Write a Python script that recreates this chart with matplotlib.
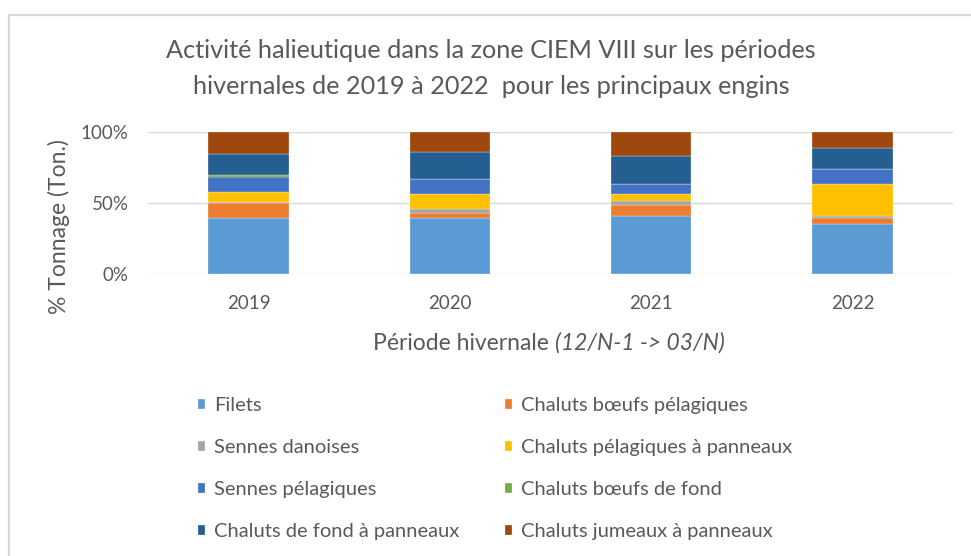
import matplotlib.pyplot as plt
from matplotlib.patches import Rectangle
import numpy as np

plt.rcParams['font.family'] = ['Lato', 'DejaVu Sans']

# data (share of tonnage, %)
years = ['2019', '2020', '2021', '2022']
engins = ['Filets', 'Chaluts bœufs pélagiques', 'Sennes danoises',
          'Chaluts pélagiques à panneaux', 'Sennes pélagiques',
          'Chaluts bœufs de fond', 'Chaluts de fond à panneaux',
          'Chaluts jumeaux à panneaux']
filets = [39.4, 39.4, 40.8, 35.4]
boeufs_pelag = [10.6, 3.8, 7.7, 3.8]
sennes_dan = [1.0, 2.6, 2.6, 1.4]
chal_pelag = [7.0, 10.8, 5.4, 22.8]
sennes_pelag = [10.4, 10.3, 6.8, 10.3]
boeufs_fond = [1.5, 0.1, 0.3, 0.1]
chal_fond = [14.6, 19.0, 19.7, 14.6]
jumeaux = [15.5, 14.0, 16.7, 11.6]
series = [filets, boeufs_pelag, sennes_dan, chal_pelag, sennes_pelag,
          boeufs_fond, chal_fond, jumeaux]
colors = ['#5B9BD5', '#ED7D31', '#A5A5A5', '#FFC000', '#4472C4',
          '#70AD47', '#255E91', '#9E480E']

txt = '#595959'
W, H = 971, 556
fig = plt.figure(figsize=(W / 100, H / 100), dpi=100)

# chart border
fig.patches.append(Rectangle((9 / W, -0.1), 1.1, (H - 15) / H + 0.1,
                             transform=fig.transFigure, fill=False,
                             edgecolor='#d9d9d9', linewidth=1.6))

ax = fig.add_axes([148 / W, (H - 274) / H, (953 - 148) / W, 142 / H])

data = np.array(series)
totals = data.sum(axis=0)
x = np.arange(len(years))
bottom = np.zeros(len(years))
handles = []
for vals, lab, c in zip(data, engins, colors):
    share = vals / totals
    b = ax.bar(x, share, 0.4, bottom=bottom, color=c, label=lab,
               edgecolor='white', linewidth=0.2)
    handles.append(b)
    bottom += share

ax.set_xlim(-0.5, 3.5)
ax.set_ylim(0, 1)
ax.set_yticks([0, 0.5, 1])
ax.set_yticklabels(['0%', '50%', '100%'])
ax.set_xticks(x)
ax.set_xticklabels(years)
ax.tick_params(length=0, labelsize=13.5, labelcolor=txt)
ax.tick_params(axis='y', pad=14)
ax.tick_params(axis='x', pad=15)
ax.grid(axis='y', color='#d9d9d9', linewidth=1)
ax.set_axisbelow(True)
for s in ax.spines.values():
    s.set_visible(False)

fig.text(491 / W, 1 - 50 / H,
         'Activité halieutique dans la zone CIEM VIII sur les périodes',
         ha='center', va='center', fontsize=18.2, color=txt)
fig.text(491 / W, 1 - 86 / H,
         'hivernales de 2019 à 2022  pour les principaux engins',
         ha='center', va='center', fontsize=18.2, color=txt)

fig.text(59 / W, 1 - 227 / H, '% Tonnage (Ton.)', rotation=90,
         ha='center', va='center', fontsize=16.5, color=txt)

t1 = fig.text(373 / W, 1 - 343 / H, 'Période hivernale ', ha='left',
              va='center', fontsize=16.5, color=txt)
ax.annotate('(12/N-1 -> 03/N)', xy=(1, 0), xycoords=t1, va='bottom',
            ha='left', fontsize=16.5, color=txt, style='italic',
            annotation_clip=False)

order = [0, 2, 4, 6, 1, 3, 5, 7]
fig.legend([handles[i] for i in order], [engins[i] for i in order],
           ncol=2, loc='upper left', bbox_to_anchor=(182 / W, 1 - 381 / H),
           frameon=False, fontsize=14.5, labelcolor=txt,
           handlelength=0.35, handleheight=0.35, handletextpad=0.45,
           labelspacing=1.24, columnspacing=2.25, borderpad=0.3)

fig.savefig('out.png', dpi=100)
